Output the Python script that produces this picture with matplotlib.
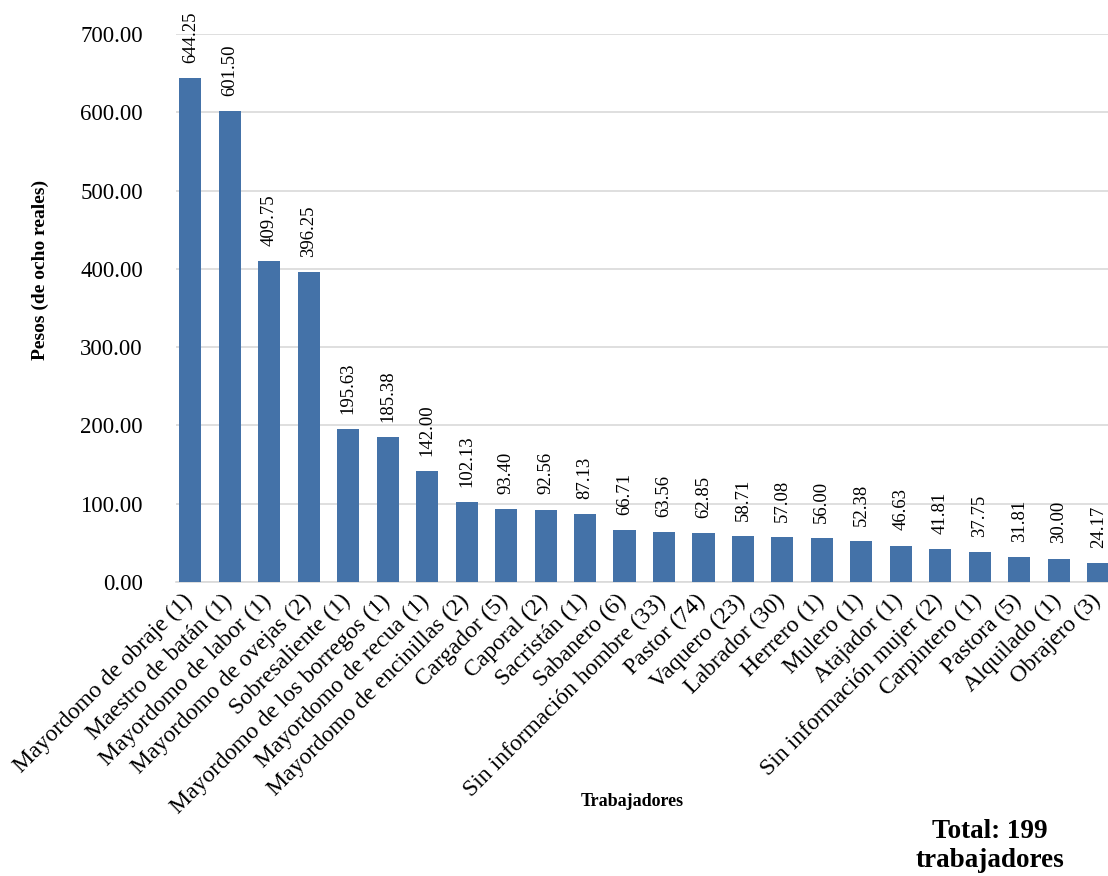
import numpy as np
import matplotlib.pyplot as plt
from matplotlib.ticker import MultipleLocator
from matplotlib.transforms import ScaledTranslation

plt.rcParams['font.family'] = ['Liberation Serif', 'DejaVu Serif']

categories = [
    'Mayordomo de obraje (1)', 'Maestro de batán (1)', 'Mayordomo de labor (1)',
    'Mayordomo de ovejas (2)', 'Sobresaliente (1)', 'Mayordomo de los borregos (1)',
    'Mayordomo de recua (1)', 'Mayordomo de encinillas (2)', 'Cargador (5)',
    'Caporal (2)', 'Sacristán (1)', 'Sabanero (6)', 'Sin información hombre (33)',
    'Pastor (74)', 'Vaquero (23)', 'Labrador (30)', 'Herrero (1)', 'Mulero (1)',
    'Atajador (1)', 'Sin información mujer (2)', 'Carpintero (1)', 'Pastora (5)',
    'Alquilado (1)', 'Obrajero (3)',
]
values = [644.25, 601.50, 409.75, 396.25, 195.63, 185.38, 142.00, 102.13, 93.40,
          92.56, 87.13, 66.71, 63.56, 62.85, 58.71, 57.08, 56.00, 52.38, 46.63,
          41.81, 37.75, 31.81, 30.00, 24.17]


def main():
    fig = plt.figure(figsize=(11.08, 8.76), dpi=100)
    ax = fig.add_axes([0.159, 0.3356, 0.841, 0.6254])
    x = np.arange(len(values))
    ax.bar(x, values, width=0.56, color='#4472a8', zorder=3)
    for xi, v in zip(x, values):
        ax.annotate(f'{v:.2f}', (xi, v), xytext=(0, 11), textcoords='offset points',
                    rotation=90, ha='center', va='bottom', fontsize=13.5,
                    annotation_clip=False)

    ax.set_ylim(0, 700)
    ax.set_xlim(-0.36, 23.25)
    ax.yaxis.set_major_locator(MultipleLocator(100))
    ax.yaxis.set_major_formatter(lambda v, p: f'{v:.2f}')
    ax.grid(True, axis='y', color='#d9d9d9', linewidth=1.2, zorder=0)
    for s in ['top', 'right', 'left']:
        ax.spines[s].set_visible(False)
    ax.spines['bottom'].set_color('#d9d9d9')
    ax.spines['bottom'].set_linewidth(1.2)
    ax.tick_params(axis='both', length=0)
    ax.tick_params(axis='y', pad=24, labelsize=16.5)
    ax.tick_params(axis='x', pad=6, labelsize=17)
    ax.set_xticks(x)
    ax.set_xticklabels(categories, rotation=45, ha='right', rotation_mode='anchor')
    shift = ScaledTranslation(-6 / 72, 0, fig.dpi_scale_trans)
    for lbl in ax.get_xticklabels():
        lbl.set_transform(lbl.get_transform() + shift)

    fig.text(40 / 1108, 1 - 270 / 876, 'Pesos (de ocho reales)', fontsize=14,
             fontweight='bold', rotation=90, ha='center', va='center')
    fig.text(632 / 1108, 1 - 802 / 876, 'Trabajadores', fontsize=13,
             fontweight='bold', ha='center', va='center')
    fig.text(990 / 1108, 1 - 846 / 876, 'Total: 199\ntrabajadores', fontsize=19.5,
             fontweight='bold', ha='center', va='center', linespacing=1.25)

    fig.savefig('out.png', dpi=100)


if __name__ == '__main__':
    main()
